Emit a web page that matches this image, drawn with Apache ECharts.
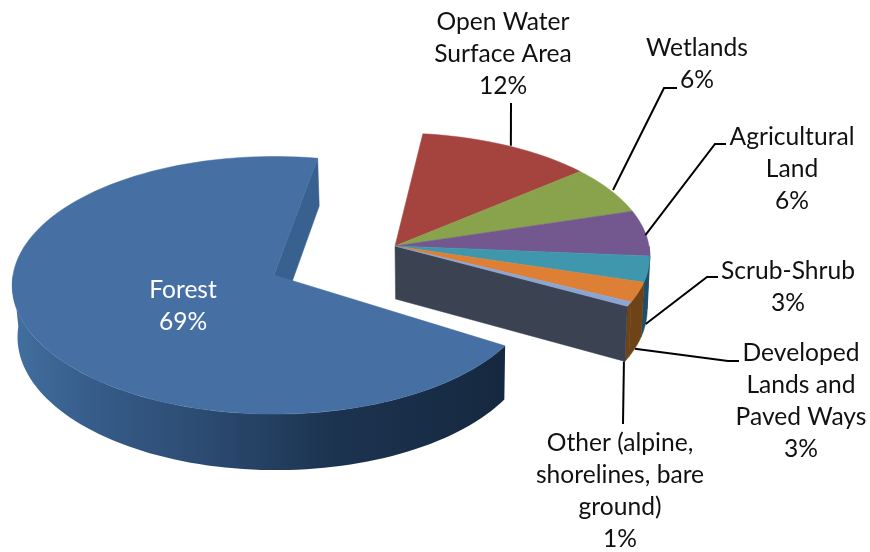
<!DOCTYPE html>
<html><head><meta charset="utf-8">
<style>html,body{margin:0;padding:0;background:#fff}#c{width:870px;height:552px}</style>
<script src="https://cdn.jsdelivr.net/npm/echarts@6/dist/echarts.min.js"></script>
</head><body><div id="c"></div>
<script>
// Data (slice sizes; the labels show them rounded)
const categories = ['Forest','Open Water Surface Area','Wetlands','Agricultural Land','Scrub-Shrub','Developed Lands and Paved Ways','Other (alpine, shorelines, bare ground)'];
const values = [69,12,6.4,6,3.4,2.6,0.6];
const labelLines = [['Forest','69%'],['Open Water','Surface Area','12%'],['Wetlands','6%'],['Agricultural','Land','6%'],['Scrub-Shrub','3%'],['Developed','Lands and','Paved Ways','3%'],['Other (alpine,','shorelines, bare','ground)','1%']];

// Styles and layout
const topColors = ['#466fa3','#a5443f','#88a34b','#73578f','#3f97ae','#dd7f35','#8aa5d4'];
const wallColors = [null,'#6b2a27','#55662f','#2b3f5c','#1b5068','#6d4317','#6d4317'];
const textLayout = [
  {x:183,y:290,color:'#fff'},{x:503,y:22},{x:697,y:48},{x:792,y:137},{x:788,y:271},{x:801,y:353},{x:620,y:443}
];
const leaderLayout = [null,
  {pts:[[511,103]],wall:0,dx:3,dy:0},
  {pts:[[664,88],[677,88]],wall:0,dx:3,dy:0},
  {pts:[[715,144],[726,144]],wall:0,dx:0,dy:2},
  {pts:[[707,277],[718,277]],wall:1,dx:0,dy:1},
  {pts:[[728,361],[739,361]],wall:1,dx:-1,dy:2},
  {pts:[[623,424]],wall:1,dx:-1,dy:0}
];
const LINE_H = 32, FONT = 24.6;
const VANISH_X = 440, VANISH_K = 0.0125;
const forestGeom = {cx:274,cy:275,R:261,Rs:128,a:0.08,H:51.5,start:122};
const restGeom = {cx:395,cy:246,R:254,Rs:122,a:0.08,H:53,start:6.8};

function project(g,deg){
  const t=deg*Math.PI/180,u=Math.sin(t),v=Math.cos(t),p=1/(1+g.a*v);
  return {x:g.cx+g.R*u*p,y:g.cy-g.Rs*v*p,h:g.H*p};
}
function low(x){return x+(VANISH_X-x)*VANISH_K;}
function arc(g,a0,a1,n){
  const r=[];for(let i=0;i<=n;i++){r.push(project(g,a0+(a1-a0)*i/n));}return r;
}
const total = values.reduce((s,v)=>s+v,0);
function range(i){
  if(i===0){const s=forestGeom.start;return [s,s+values[0]/total*360];}
  let s=restGeom.start;for(let k=1;k<i;k++)s+=values[k]/total*360;
  return [s,s+values[i]/total*360];
}
function poly(points,fill){
  return {type:'polygon',shape:{points},style:{fill,stroke:(fill&&fill.colorStops)?null:fill,lineWidth:0.5}};
}
function renderItem(params,api){
  const i=params.dataIndex,val=api.value(0);
  const g=i===0?forestGeom:restGeom;
  const [a0,a1]=range(i);
  const kids=[];
  if(i===0){
    const s=project(g,a1);
    kids.push(poly([[g.cx,g.cy],[s.x,s.y],[low(s.x),s.y+s.h],[low(g.cx),g.cy+g.H]],'#38618f'));
    const w=arc(g,a0,Math.min(a1,270),80);
    kids.push(poly(w.map(q=>[q.x,q.y]).concat(w.slice().reverse().map(q=>[low(q.x),q.y+q.h])),
      {type:'linear',x:1,y:0,x2:0,y2:0,colorStops:[
        {offset:0,color:'#15283f'},{offset:0.35,color:'#1c3350'},{offset:0.6,color:'#2b4a70'},{offset:0.85,color:'#375d8b'},{offset:1,color:'#42709f'}]}));
  } else {
    const from=Math.max(a0,90);
    if(a1>90){
      const w=arc(g,from,a1,16);
      kids.push(poly(w.map(q=>[q.x,q.y]).concat(w.slice().reverse().map(q=>[low(q.x),q.y+q.h])),wallColors[i]));
    }
    if(i===values.length-1){
      const e=project(g,a1);
      kids.push(poly([[g.cx,g.cy],[e.x,e.y],[low(e.x),e.y+e.h],[low(g.cx),g.cy+g.H]],'#3b4252'));
    }
  }
  const rim=arc(g,a0,a1,Math.max(6,Math.round((val/total)*160)));
  kids.push(poly([[g.cx,g.cy]].concat(rim.map(q=>[q.x,q.y])),topColors[i]));
  const lead=leaderLayout[i];
  if(lead){
    const m=project(g,i===values.length-1?a1:(a0+a1)/2);
    const ax=(lead.wall?low(m.x):m.x)+lead.dx, ay=m.y+lead.wall*m.h+lead.dy;
    kids.push({type:'polyline',z2:5,shape:{points:[[ax,ay]].concat(lead.pts)},style:{fill:null,stroke:'#000',lineWidth:2}});
  }
  const tl=textLayout[i];
  labelLines[i].forEach((line,k)=>{
    kids.push({type:'text',z2:6,style:{x:tl.x,y:tl.y+k*LINE_H,text:line,fill:tl.color||'#111',font:FONT+'px Lato, "Open Sans", sans-serif',align:'center',verticalAlign:'middle'}});
  });
  return {type:'group',children:kids};
}
const chart=echarts.init(document.getElementById('c'),null,{renderer:'canvas'});
chart.setOption({
  animation:false,
  backgroundColor:'#fff',
  series:[{type:'custom',coordinateSystem:'none',renderItem,clip:false,
    data:categories.map((name,i)=>({name,value:[values[i]]}))}]
});
</script></body></html>
